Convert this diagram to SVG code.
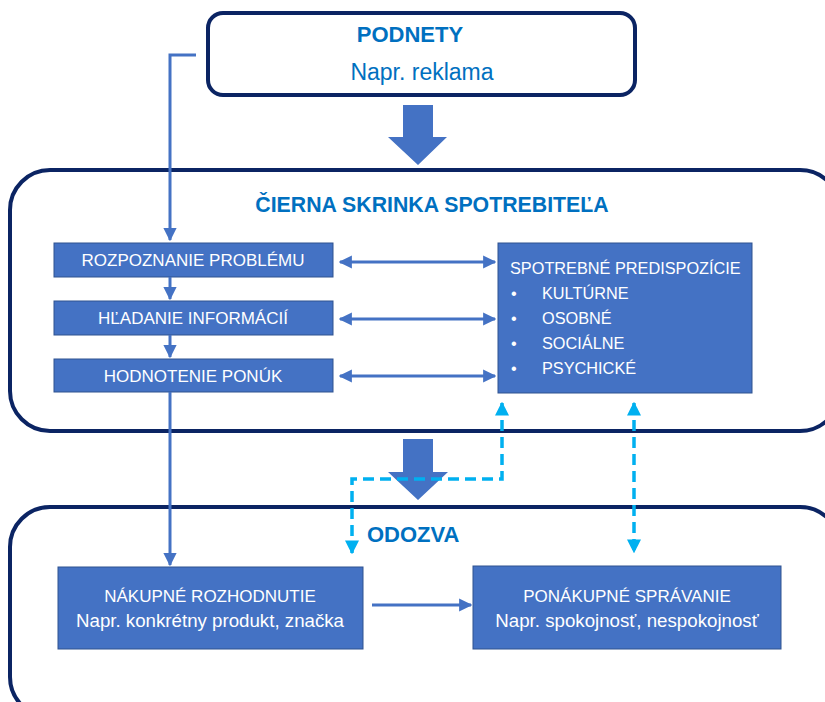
<svg xmlns="http://www.w3.org/2000/svg" width="825" height="702" viewBox="0 0 825 702">
<defs>
<style>
.frame{fill:#fff;stroke:#0B2463;stroke-width:4}
.box{fill:#4472C4;stroke:#2F528F;stroke-width:1}
.wt{fill:#fff;font-family:"Liberation Sans",Arial,sans-serif;font-size:17px}
.sm{font-size:16.3px}
.nt{font-size:18.7px}
.ttl{fill:#0070C0;font-family:"Liberation Sans",Arial,sans-serif;font-weight:bold;font-size:22px}
.ln{stroke:#4472C4;stroke-width:3;fill:none}
.dash{stroke:#00B0F0;stroke-width:3.5;fill:none;stroke-dasharray:11 6}
.big{fill:#4472C4}
</style>
<marker id="ah" viewBox="0 0 10 10" refX="9" refY="5" markerWidth="4.4" markerHeight="4.4" orient="auto-start-reverse" markerUnits="strokeWidth"><path d="M0,0 L10,5 L0,10 z" fill="#4472C4"/></marker>
<marker id="ahc" viewBox="0 0 10 10" refX="9" refY="5" markerWidth="4" markerHeight="4" orient="auto-start-reverse" markerUnits="strokeWidth"><path d="M0,0 L10,5 L0,10 z" fill="#00B0F0"/></marker>
</defs>

<g id="podnety">
<rect class="frame" x="208" y="13" width="427" height="82" rx="15"/>
<text class="ttl" x="410" y="42" text-anchor="middle">PODNETY</text>
<text x="422" y="80" text-anchor="middle" fill="#0070C0" font-family="Liberation Sans, Arial, sans-serif" font-size="23">Napr. reklama</text>
</g>

<g id="cierna-skrinka">
<rect class="frame" x="10" y="170" width="830" height="261" rx="40"/>
<text class="ttl" x="432" y="212" text-anchor="middle" style="font-size:21.3px">ČIERNA SKRINKA SPOTREBITEĽA</text>
</g>

<g id="odozva">
<rect class="frame" x="10" y="507" width="830" height="210" rx="40"/>
<text class="ttl" x="367" y="542">ODOZVA</text>
</g>

<g id="big-arrows">
<path class="big" d="M403,105 H433 V137 H447 L418,165 L388,137 H403 Z"/>
<path class="big" d="M403,439 H433 V472 H448 L418,500 L388,472 H403 Z"/>
</g>

<g id="rozpoznanie">
<rect class="box" x="54" y="243" width="279" height="34"/>
<text class="wt" x="193" y="266" text-anchor="middle">ROZPOZNANIE PROBLÉMU</text>
</g>
<g id="hladanie">
<rect class="box" x="54" y="301" width="279" height="34"/>
<text class="wt" x="193" y="324" text-anchor="middle">HĽADANIE INFORMÁCIÍ</text>
</g>
<g id="hodnotenie">
<rect class="box" x="54" y="359" width="279" height="33"/>
<text class="wt" x="193" y="382" text-anchor="middle">HODNOTENIE PONÚK</text>
</g>

<g id="predispozicie">
<rect class="box" x="498" y="243" width="254" height="150"/>
<g class="wt sm">
<text x="510" y="274">SPOTREBNÉ PREDISPOZÍCIE</text>
<text x="511" y="299">•</text><text x="542" y="299">KULTÚRNE</text>
<text x="511" y="324">•</text><text x="542" y="324">OSOBNÉ</text>
<text x="511" y="349">•</text><text x="542" y="349">SOCIÁLNE</text>
<text x="511" y="374">•</text><text x="542" y="374">PSYCHICKÉ</text>
</g>
</g>

<g id="nakupne">
<rect class="box" x="58" y="567" width="305" height="82"/>
<text class="wt" x="210" y="602" text-anchor="middle">NÁKUPNÉ ROZHODNUTIE</text>
<text class="wt nt" x="210" y="627" text-anchor="middle">Napr. konkrétny produkt, značka</text>
</g>

<g id="ponakupne">
<rect class="box" x="473" y="566" width="308" height="83"/>
<text class="wt" x="627" y="602" text-anchor="middle">PONÁKUPNÉ SPRÁVANIE</text>
<text class="wt nt" x="627" y="627" text-anchor="middle">Napr. spokojnosť, nespokojnosť</text>
</g>

<g id="connectors">
<path class="ln" d="M196,55 H170 V240" marker-end="url(#ah)"/>
<path class="ln" d="M170,277 V299" marker-end="url(#ah)"/>
<path class="ln" d="M170,335 V357" marker-end="url(#ah)"/>
<path class="ln" d="M170,392 V565" marker-end="url(#ah)"/>
<path class="ln" d="M340,262 H495" marker-start="url(#ah)" marker-end="url(#ah)"/>
<path class="ln" d="M340,319 H495" marker-start="url(#ah)" marker-end="url(#ah)"/>
<path class="ln" d="M340,376 H495" marker-start="url(#ah)" marker-end="url(#ah)"/>
<path class="ln" d="M372,605 H471" marker-end="url(#ah)"/>
<path class="dash" d="M502,403 V479 H352 V553" marker-start="url(#ahc)" marker-end="url(#ahc)"/>
<path class="dash" d="M634,403 V552" marker-start="url(#ahc)" marker-end="url(#ahc)"/>
</g>
</svg>
